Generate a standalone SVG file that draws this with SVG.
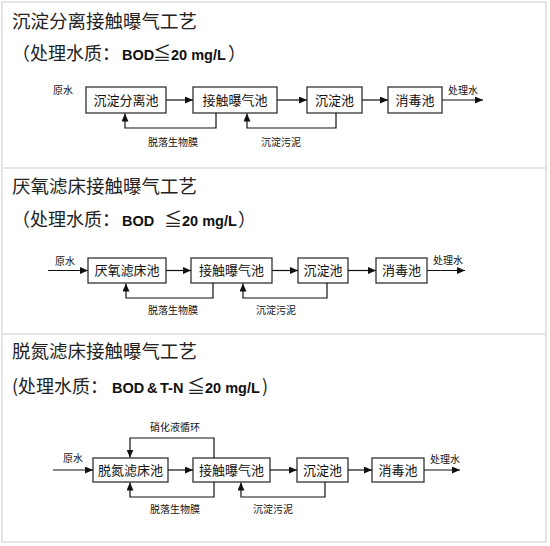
<svg xmlns="http://www.w3.org/2000/svg" width="550" height="546" viewBox="0 0 550 546">
<defs>
<marker id="ah" markerUnits="userSpaceOnUse" markerWidth="8" markerHeight="7" refX="8" refY="3.5" orient="auto">
<path d="M0,0 L8,3.5 L0,7 z" fill="#111"/>
</marker>
<style>
.title{font-family:"Noto Sans CJK SC","Noto Sans",sans-serif;font-size:18.5px;fill:#222}
.sub{font-family:"Noto Sans CJK SC","Noto Sans",sans-serif;font-size:18px;fill:#222}
.lat{font-family:"Liberation Sans",Arial,sans-serif;font-weight:bold;font-size:14.5px;fill:#111}
.box rect{fill:#fff;stroke:#333;stroke-width:1.3}
.box text{font-family:"Noto Sans CJK SC","Noto Sans",sans-serif;font-size:13px;fill:#111;text-anchor:middle}
.lbl{font-family:"Noto Sans CJK SC","Noto Sans",sans-serif;font-size:10px;fill:#111}
.conn path,.conn line{fill:none;stroke:#111;stroke-width:1.2;marker-end:url(#ah)}
</style>
</defs>
<rect x="0" y="0" width="550" height="546" fill="#fff"/>
<rect x="2" y="2" width="544" height="540" fill="#fff" stroke="#ddd" stroke-width="1.5"/>
<line x1="2" y1="168" x2="546" y2="168" stroke="#ddd" stroke-width="1.5"/>
<line x1="2" y1="334" x2="546" y2="334" stroke="#ddd" stroke-width="1.5"/>

<!-- Panel 1 -->
<text class="title" x="12" y="28">沉淀分离接触曝气工艺</text>
<text class="sub" y="60"><tspan x="12">（处理水质：</tspan><tspan class="lat" x="122">BOD</tspan><tspan x="153">≦</tspan><tspan class="lat" x="171">20 mg/L</tspan><tspan x="228">）</tspan></text>
<g id="p1-n1" class="box"><rect x="86" y="87" width="80" height="26"/><text x="126" y="105">沉淀分离池</text></g>
<g id="p1-n2" class="box"><rect x="193" y="87" width="84" height="26"/><text x="235" y="105">接触曝气池</text></g>
<g id="p1-n3" class="box"><rect x="307" y="87" width="55" height="26"/><text x="334.5" y="105">沉淀池</text></g>
<g id="p1-n4" class="box"><rect x="388" y="87" width="54" height="26"/><text x="415" y="105">消毒池</text></g>
<text class="lbl" x="53" y="94">原水</text>
<text class="lbl" x="448" y="94">处理水</text>
<text class="lbl" x="148" y="146">脱落生物膜</text>
<text class="lbl" x="261" y="146">沉淀污泥</text>
<g id="p1-conn" class="conn">
<line x1="166" y1="100" x2="193" y2="100"/>
<line x1="277" y1="100" x2="307" y2="100"/>
<line x1="362" y1="100" x2="388" y2="100"/>
<line x1="442" y1="100" x2="483" y2="100"/>
<path d="M216,113 V128 H125 V113.5"/>
<path d="M336,113 V128 H247 V113.5"/>
</g>

<!-- Panel 2 -->
<text class="title" x="12" y="193">厌氧滤床接触曝气工艺</text>
<text class="sub" y="226"><tspan x="12">（处理水质：</tspan><tspan class="lat" x="122">BOD</tspan><tspan x="164">≦</tspan><tspan class="lat" x="182">20 mg/L</tspan><tspan x="238">）</tspan></text>
<g id="p2-n1" class="box"><rect x="88" y="258" width="78" height="25"/><text x="127" y="275">厌氧滤床池</text></g>
<g id="p2-n2" class="box"><rect x="191" y="258" width="81" height="25"/><text x="231.5" y="275">接触曝气池</text></g>
<g id="p2-n3" class="box"><rect x="298" y="258" width="50" height="25"/><text x="323" y="275">沉淀池</text></g>
<g id="p2-n4" class="box"><rect x="376" y="258" width="51" height="25"/><text x="401.5" y="275">消毒池</text></g>
<text class="lbl" x="55" y="265">原水</text>
<text class="lbl" x="433" y="264">处理水</text>
<text class="lbl" x="148" y="314">脱落生物膜</text>
<text class="lbl" x="256" y="314">沉淀污泥</text>
<g id="p2-conn" class="conn">
<line x1="48" y1="270.5" x2="88" y2="270.5"/>
<line x1="166" y1="270.5" x2="191" y2="270.5"/>
<line x1="272" y1="270.5" x2="298" y2="270.5"/>
<line x1="348" y1="270.5" x2="376" y2="270.5"/>
<line x1="427" y1="270.5" x2="465" y2="270.5"/>
<path d="M213,283 V298 H126 V283.5"/>
<path d="M327,283 V298 H243 V283.5"/>
</g>

<!-- Panel 3 -->
<text class="title" x="12" y="358">脱氮滤床接触曝气工艺</text>
<text class="sub" y="393"><tspan x="12">(处理水质：</tspan><tspan class="lat" x="112">BOD</tspan><tspan class="lat" x="147">&amp;</tspan><tspan class="lat" x="160">T-N</tspan><tspan x="187">≦</tspan><tspan class="lat" x="205">20 mg/L</tspan><tspan x="262">)</tspan></text>
<g id="p3-n1" class="box"><rect x="93" y="458" width="75" height="24"/><text x="130.5" y="475">脱氮滤床池</text></g>
<g id="p3-n2" class="box"><rect x="193" y="458" width="77" height="24"/><text x="231.5" y="475">接触曝气池</text></g>
<g id="p3-n3" class="box"><rect x="297" y="458" width="51" height="24"/><text x="322.5" y="475">沉淀池</text></g>
<g id="p3-n4" class="box"><rect x="372" y="458" width="52" height="24"/><text x="398" y="475">消毒池</text></g>
<text class="lbl" x="63" y="462">原水</text>
<text class="lbl" x="430" y="463">处理水</text>
<text class="lbl" x="150" y="431">硝化液循环</text>
<text class="lbl" x="150" y="513">脱落生物膜</text>
<text class="lbl" x="253" y="513">沉淀污泥</text>
<g id="p3-conn" class="conn">
<line x1="53" y1="470" x2="93" y2="470"/>
<line x1="168" y1="470" x2="193" y2="470"/>
<line x1="270" y1="470" x2="297" y2="470"/>
<line x1="348" y1="470" x2="372" y2="470"/>
<line x1="424" y1="470" x2="460" y2="470"/>
<path d="M214,458 V438 H130 V457.5"/>
<path d="M214,482 V497 H130 V482.5"/>
<path d="M325,482 V497 H241 V482.5"/>
</g>
</svg>
